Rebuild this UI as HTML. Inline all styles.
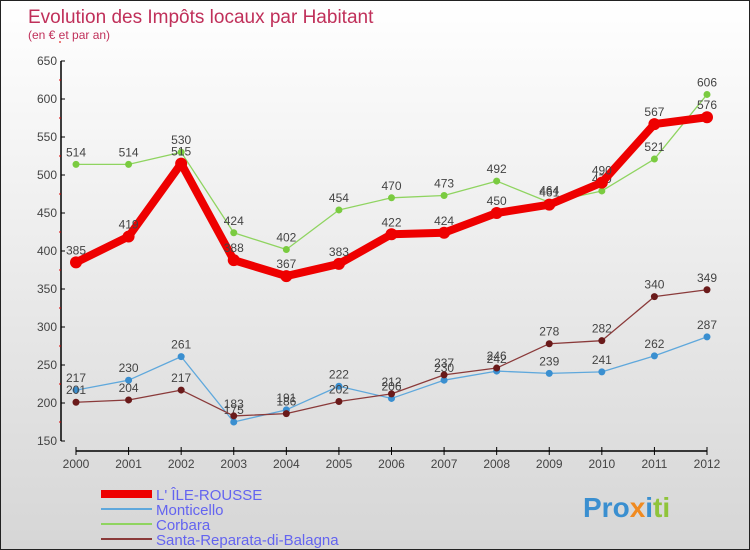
<!DOCTYPE html>
<html><head><meta charset="utf-8"><style>
body{margin:0}
#c{width:750px;height:550px;position:relative;background:linear-gradient(#ffffff,#d6d6d6);box-sizing:border-box;border:1px solid #222;overflow:hidden;font-family:"Liberation Sans",sans-serif}
svg text{font-family:"Liberation Sans",sans-serif}
</style></head><body>
<div id="c">
<svg id="s" width="750" height="550" style="position:absolute;left:0;top:0">
<text x="27" y="22" font-size="19" fill="#c0305a">Evolution des Impôts locaux par Habitant</text>
<text x="27" y="38" font-size="12" fill="#c0305a">(en € et par an)</text>
<text x="582" y="516" font-size="28" font-weight="bold" fill="#3a8fd0">Pro<tspan fill="#f08a20">x</tspan>i<tspan fill="#8fc43a">ti</tspan></text>
</svg>
</div>
<script>
const years=[2000,2001,2002,2003,2004,2005,2006,2007,2008,2009,2010,2011,2012];
const yTicks=[150,200,250,300,350,400,450,500,550,600,650];
const ileRousse=[385,419,515,388,367,383,422,424,450,461,490,567,576];
const monticello=[217,230,261,175,191,222,206,230,242,239,241,262,287];
const corbara=[514,514,530,424,402,454,470,473,492,464,479,521,606];
const santaReparata=[201,204,217,183,186,202,212,237,246,278,282,340,349];
const NS="http://www.w3.org/2000/svg";
const s=document.getElementById('s');
const X=i=>75+i*(706-75)/(years.length-1);
const Y=v=>440-(v-150)*0.76;
function el(t,a,p){const e=document.createElementNS(NS,t);for(const k in a)e.setAttribute(k,a[k]);(p||s).appendChild(e);return e;}
// axes
const ya=el('line',{x1:60,y1:Y(650),x2:60,y2:Y(150),stroke:'#000','stroke-width':1.5});


yTicks.forEach(v=>{
  el('line',{x1:60,x2:64,y1:Y(v),y2:Y(v),stroke:'#000'});
  el('line',{x1:58,x2:60,y1:Y(v+25),y2:Y(v+25),stroke:'#d00'});
  const t=el('text',{x:56,y:Y(v)+4,'text-anchor':'end','font-size':12,fill:'#444'});
  t.textContent=v;
  
  
});
const xa=el('line',{x1:75,y1:450,x2:706,y2:450,stroke:'#000','stroke-width':1.5});


years.forEach((y,i)=>{
  el('line',{x1:X(i),x2:X(i),y1:446,y2:454,stroke:'#000'});
  const t=el('text',{x:X(i),y:467,'text-anchor':'middle','font-size':12,fill:'#444'});
  t.textContent=y;
  
  
});
function series(data,color,w,r,name,dotColor){
  const g=el('g',{});
  
  
  el('polyline',{points:data.map((v,i)=>X(i)+','+Y(v)).join(' '),fill:'none',stroke:color,'stroke-width':w,'stroke-linejoin':'round'},g);
  data.forEach((v,i)=>{
    el('circle',{cx:X(i),cy:Y(v),r:r,fill:dotColor},g);
    const t=el('text',{x:X(i),y:Y(v)-8,'text-anchor':'middle','font-size':12,fill:'#444'},g);
    t.textContent=v;
  });
}
series(corbara,'#8fd460',1.3,3.5,'series-corbara','#7acb40');
series(monticello,'#5fa8dc',1.3,3.5,'series-monticello','#3a8fd0');
series(santaReparata,'#8a3a3a',1.3,3.5,'series-santa-reparata','#6a1a1a');
series(ileRousse,'#ee0000',8,6,'series-ile-rousse','#ee0000');
// legend
const leg=[['L\' ÎLE-ROUSSE','#ee0000',8],['Monticello','#5fa8dc',2],['Corbara','#8fd460',2],['Santa-Reparata-di-Balagna','#8a3a3a',2]];
leg.forEach((l,i)=>{
  const y=493+i*15;
  const g=el('g',{});
  
  
  el('line',{x1:100,x2:151,y1:y,y2:y,stroke:l[1],'stroke-width':l[2]},g);
  const t=el('text',{x:155,y:y+6,'font-size':15,fill:'#6464f0'},g);
  t.textContent=l[0];
});
</script>
</body></html>
